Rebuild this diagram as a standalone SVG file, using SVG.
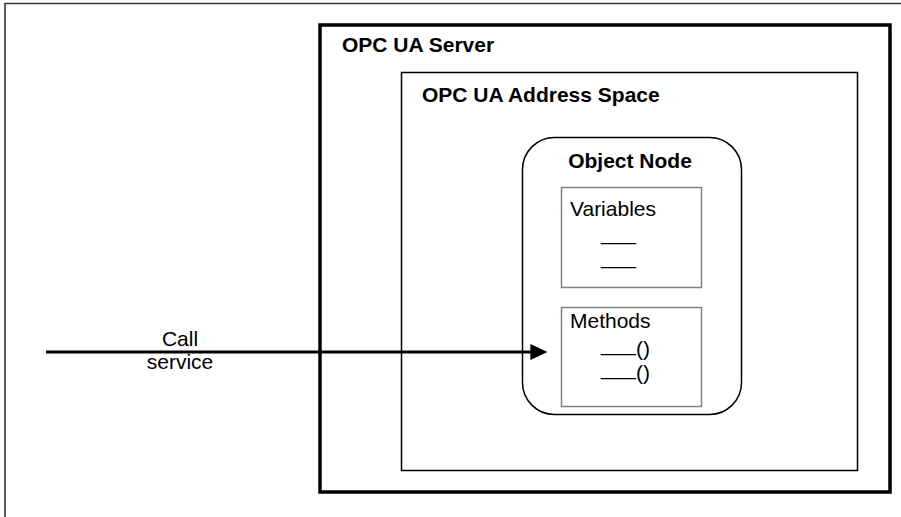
<svg xmlns="http://www.w3.org/2000/svg" width="901" height="517" viewBox="0 0 901 517">
<style>
text{font-family:"Liberation Sans",Arial,sans-serif;font-size:21px;fill:#000}
.b{font-weight:bold}
.c{text-anchor:middle}
.thin{fill:none;stroke:#000;stroke-width:1.5}
.gray{fill:#fff;stroke:#808080;stroke-width:1.5}
</style>
<defs>
<marker id="ah" markerWidth="6" markerHeight="6" refX="0.2" refY="3" orient="auto" markerUnits="strokeWidth">
<path d="M0,0.3 L5.7,3 L0,5.7 Z" fill="#000"/>
</marker>
</defs>
<rect width="901" height="517" fill="#fff"/>
<g id="frame">
<path d="M5,520 V3.5 H905" fill="none" stroke="#333" stroke-width="1.6"/>
</g>
<g id="server">
<rect x="320" y="25" width="570" height="467" fill="none" stroke="#000" stroke-width="3.5"/>
<text class="b" x="342" y="52">OPC UA Server</text>
</g>
<g id="addressspace">
<rect x="401.5" y="72.5" width="456" height="398" class="thin"/>
<text class="b" x="422" y="102">OPC UA Address Space</text>
</g>
<g id="objectnode">
<rect x="522.5" y="137.5" width="219" height="277" rx="32" ry="32" class="thin"/>
<text class="b c" x="630" y="168">Object Node</text>
</g>
<g id="variables">
<rect x="561.5" y="187.5" width="140" height="100" class="gray"/>
<text x="570" y="216">Variables</text>
<text x="601" y="240">___</text>
<text x="601" y="264">___</text>
</g>
<g id="methods">
<rect x="561.5" y="307.5" width="140" height="99" class="gray"/>
<text x="570" y="328">Methods</text>
<text x="601" y="351">___<tspan dy="5">()</tspan></text>
<text x="601" y="375">___<tspan dy="5">()</tspan></text>
</g>
<g id="connectors">
<line x1="46" y1="352" x2="531" y2="352" stroke="#000" stroke-width="3" marker-end="url(#ah)"/>
<text class="c" x="180" y="346">Call</text>
<text class="c" x="180" y="369">service</text>
</g>
</svg>
